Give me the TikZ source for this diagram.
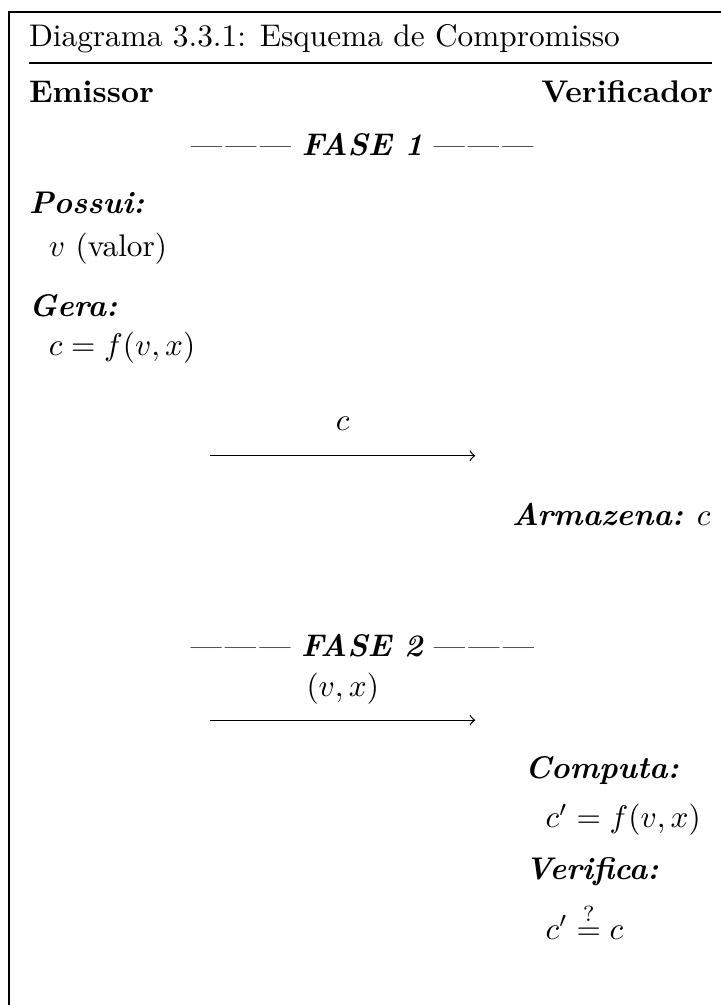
\documentclass[tikz,border=0pt]{standalone}
\usepackage{amsmath, amssymb}
\newcommand{\tracos}{---\kern1pt---\kern1pt---}
\begin{document}
\begin{tikzpicture}[
        every node/.style={inner sep=0pt, outer sep=0pt},
        texto/.style={anchor=base west},
        rotulo/.style={anchor=base west, font=\bfseries\itshape},
        fase/.style={anchor=base},
        msg/.style={->, thin}]
      \useasboundingbox (0,0) rectangle (8.10,-11.29);
      % moldura (cortada a direita e em baixo)
      \draw[line width=0.5pt] (0.10,-11.29) -- (0.10,-0.135) -- (8.10,-0.135);
      \node[texto] (titulo) at (0.326,-0.528) {Diagrama 3.3.1: Esquema de Compromisso};
      \draw[line width=0.5pt] (0.326,-0.708) -- (8.0,-0.708);
      \node[texto, font=\bfseries] (emissor) at (0.326,-1.157) {Emissor};
      \node[anchor=base east, font=\bfseries] (verif) at (8.01,-1.157) {Verificador};
      \node[fase] (fase1) at (4.07,-1.75) {\tracos{} \textbf{\textit{FASE 1}} \tracos};
      % lado do emissor
      \node[rotulo] (possui) at (0.326,-2.40) {Possui:};
      \node[texto] (valor) at (0.55,-2.88) {$v$ (valor)};
      \node[rotulo] (gera) at (0.326,-3.55) {Gera:};
      \node[texto] (compr) at (0.55,-3.99) {$c = f(v, x)$};
      % envio do compromisso
      \coordinate (ea) at (2.36,-5.12);
      \coordinate (eb) at (5.34,-5.12);
      \draw[msg] (ea) -- (eb);
      \node[anchor=base] (lc) at (3.85,-4.84) {$c$};
      \node[anchor=base east] (armaz) at (7.98,-5.90) {\textbf{\textit{Armazena:}} $c$};
      \node[fase] (fase2) at (4.07,-7.37) {\tracos{} \textbf{\textit{FASE 2}} \tracos};
      % abertura
      \coordinate (aa) at (2.36,-8.09);
      \coordinate (ab) at (5.34,-8.09);
      \draw[msg] (aa) -- (ab);
      \node[anchor=base] (lvx) at (3.85,-7.82) {$(v, x)$};
      % lado do verificador
      \node[rotulo] (computa) at (5.90,-8.74) {Computa:};
      \node[texto] (calc) at (6.13,-9.30) {$c' = f(v, x)$};
      \node[rotulo] (verifica) at (5.90,-9.88) {Verifica:};
      \node[texto] (teste) at (6.13,-10.55) {$c' \stackrel{?}{=} c$};
    \end{tikzpicture}
\end{document}
